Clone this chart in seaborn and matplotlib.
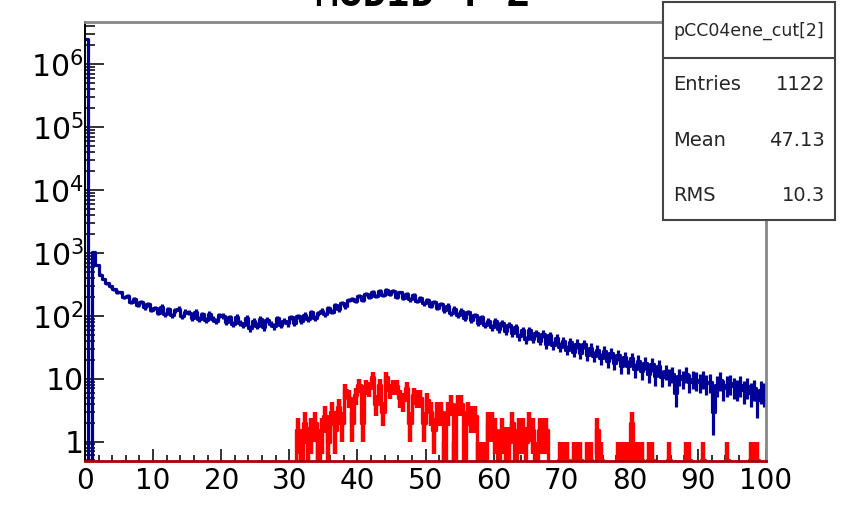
import numpy as np
import pandas as pd
import matplotlib
matplotlib.use("Agg")
import matplotlib.pyplot as plt
import seaborn as sns
from matplotlib.ticker import MultipleLocator, LogLocator, FixedLocator, FuncFormatter, NullFormatter
from matplotlib.patches import Rectangle
from matplotlib.lines import Line2D

# ---------------- data ----------------
x_min, x_max, bin_width = 0.0, 100.0, 0.5

blue_counts = [
    2.5e6, 0, 1050, 640, 450, 385, 330, 295, 262, 240,
    236, 196, 210, 166, 186, 148, 164, 136, 152, 124,
    134, 112, 140, 106, 128, 102, 123, 130, 98, 116,
    112, 92, 116, 90, 105, 86, 108, 90, 82, 102,
    100, 80, 95, 75, 97, 78, 72, 92, 64, 84,
    70, 90, 66, 86, 74, 68, 91, 72, 84, 76,
    94, 77, 98, 83, 104, 88, 113, 92, 109, 120,
    106, 133, 116, 146, 128, 162, 142, 176, 188, 170,
    206, 180, 224, 198, 240, 206, 252, 214, 260, 220,
    246, 202, 236, 192, 226, 182, 212, 172, 194, 158,
    180, 144, 168, 134, 156, 122, 145, 110, 130, 103,
    121, 93, 114, 87, 101, 78, 95, 72, 84, 66,
    82, 62, 76, 57, 72, 53, 66, 47, 59, 42,
    59, 43, 53, 40, 52, 36, 49, 34, 44, 32,
    40, 29, 38, 27, 36, 26, 35, 24, 31, 23,
    29, 21, 28, 19, 26, 18, 24, 16, 22, 16,
    21, 14, 19, 13, 18, 12, 17, 11, 16, 10.5,
    13, 11, 12, 6, 11, 10, 12, 9, 10, 9.5,
    9, 10, 8.5, 9, 3, 8, 9.5, 7, 8, 8.5,
    7.5, 7, 8, 6.5, 7.5, 6, 7, 4.5, 6.5, 6,
]

red_counts = [0] * 62 + [
    1.5, 0.5, 2, 1, 1.5, 2, 0.5, 1.5,
    2.5, 1, 3, 1.5, 3.5, 2, 6.5, 5, 2, 5.5,
    8, 2, 7.5, 7, 10.5, 4, 8, 3, 10.5, 6.5,
    7.5, 7.5, 5, 4.5, 7, 2, 5.5, 5, 5, 2,
    4.5, 3, 1.5, 3, 3, 0.5, 3, 4, 0.5, 4,
    4, 0.5, 3, 2.5, 2.5, 0.5, 0.5, 0.5, 2, 2,
    1.5, 0.5, 1.5, 1, 1, 2, 0.5, 1.5, 1.5, 1,
    2, 1.5, 0.5, 1.5, 1.5, 1.5, 0, 0, 0, 0.5,
    0.5, 0.5, 0, 0.5, 0.5, 0.5, 0, 0.5, 0.5, 0,
    1.5, 0.5, 0, 0, 0, 0, 0.5, 0.5, 0.5, 0.5,
    2, 0.5, 0.5, 0.5, 0, 0.5, 0.5, 0, 0, 0,
    0, 0.5, 0, 0, 0, 0, 0.5, 0.5, 0, 0,
    0, 0.5, 0, 0, 0, 0, 0, 0, 0.5, 0,
    0, 0, 0, 0, 0, 0.5, 0.5, 0.5, 0, 0,
]
red_weight = 0.5  # entry weight of the red histogram

y_decades = [0, 1, 2, 3, 4, 5, 6]
title = "MODID : 2"
stats_name = "pCC04ene_cut[2]"
stats_labels = ["Entries", "Mean", "RMS"]
stats_values = ["1122", "47.13", "10.3"]

# ---------------- derived tables ----------------
n_bins = int(round((x_max - x_min) / bin_width))
edges = np.linspace(x_min, x_max, n_bins + 1)
centers = (edges[:-1] + edges[1:]) / 2
blue = np.asarray(blue_counts, float)
red = np.asarray(red_counts, float)
df = pd.DataFrame({"energy": centers, "blue": blue, "red": red})

BLUE = "#000099"
RED = "#ff0000"

sns.set_theme(style="ticks")
plt.rcParams["font.family"] = ["DejaVu Sans"]
plt.rcParams["mathtext.fontset"] = "dejavusans"

W, H = 843, 505
fig = plt.figure(figsize=(W / 100, H / 100), dpi=100)
fx = lambda px: px / W
fy = lambda py: 1 - py / H
ax = fig.add_axes([fx(85), fy(461), fx(766) - fx(85), fy(22) - fy(461)])

sns.histplot(data=df, x="energy", weights="blue", bins=n_bins, binrange=(x_min, x_max),
             element="step", fill=False, color=BLUE, linewidth=2.3, ax=ax)
sns.histplot(data=df, x="energy", weights="red", bins=n_bins, binrange=(x_min, x_max),
             element="step", fill=False, color=RED, linewidth=2.4, ax=ax)
ax.set_yscale("log")
ax.errorbar(df["energy"], df["blue"], yerr=np.sqrt(df["blue"]), fmt="none",
            ecolor=BLUE, elinewidth=2.3, capsize=0)
ax.errorbar(df["energy"], df["red"], yerr=np.sqrt(red_weight * df["red"]), fmt="none",
            ecolor=RED, elinewidth=3.2, capsize=0)

ax.set_xlim(x_min, x_max)
ax.set_ylim(0.49, 4.7e6)
ax.set_xlabel("")
ax.set_ylabel("")
ax.grid(False)

ax.xaxis.set_major_locator(MultipleLocator(10))
ax.xaxis.set_minor_locator(MultipleLocator(2))
ax.yaxis.set_major_locator(FixedLocator([10.0 ** e for e in y_decades]))
ax.yaxis.set_minor_locator(LogLocator(base=10, subs=np.arange(2, 10), numticks=100))
ax.yaxis.set_minor_formatter(NullFormatter())


def yfmt(v, pos):
    e = int(round(np.log10(v)))
    if e == 0:
        return "1"
    if e == 1:
        return "10"
    return r"$10^{%d}$" % e


ax.yaxis.set_major_formatter(FuncFormatter(yfmt))

ax.tick_params(axis="both", which="both", direction="in", top=False, right=False,
               color="#333333", labelcolor="black")
ax.tick_params(axis="y", which="major", length=13.5, width=1.4, labelsize=21.5, pad=1)
ax.tick_params(axis="y", which="minor", length=7, width=1.4)
ax.tick_params(axis="x", which="major", length=8.6, width=1.4, labelsize=20, pad=4)
ax.tick_params(axis="x", which="minor", length=4.3, width=1.4)

ax.spines["left"].set_color("black")
ax.spines["left"].set_linewidth(1.4)
ax.spines["bottom"].set_color("#aa0000")
ax.spines["bottom"].set_linewidth(2)
for s in ("top", "right"):
    ax.spines[s].set_color("#888888")
    ax.spines[s].set_linewidth(2)

# title (partly cut off at the top, as in the reference)
fig.text(fx(422.5), fy(6), title, ha="center", va="baseline", fontsize=28.7,
         family="Liberation Mono", fontweight="bold", color="black")

# stats box
bx0, bx1, by0, by1 = 662.5, 835, 2, 220
fig.add_artist(Rectangle((fx(bx0), fy(by1)), fx(bx1) - fx(bx0), fy(by0) - fy(by1),
                         transform=fig.transFigure, facecolor="white",
                         edgecolor="#444444", linewidth=1.5, zorder=5))
fig.add_artist(Line2D([fx(bx0), fx(bx1)], [fy(57.5), fy(57.5)], transform=fig.transFigure,
                      color="#444444", linewidth=1.5, zorder=6))
fig.text(fx((bx0 + bx1) / 2), fy(31), stats_name, ha="center", va="center",
         fontsize=12.5, zorder=7)
for i, (lab, val) in enumerate(zip(stats_labels, stats_values)):
    yy = fy(84.5 + i * 55.7)
    fig.text(fx(673), yy, lab, ha="left", va="center", fontsize=14, zorder=7)
    fig.text(fx(825), yy, val, ha="right", va="center", fontsize=14, zorder=7)

fig.savefig("out.png", dpi=100)
